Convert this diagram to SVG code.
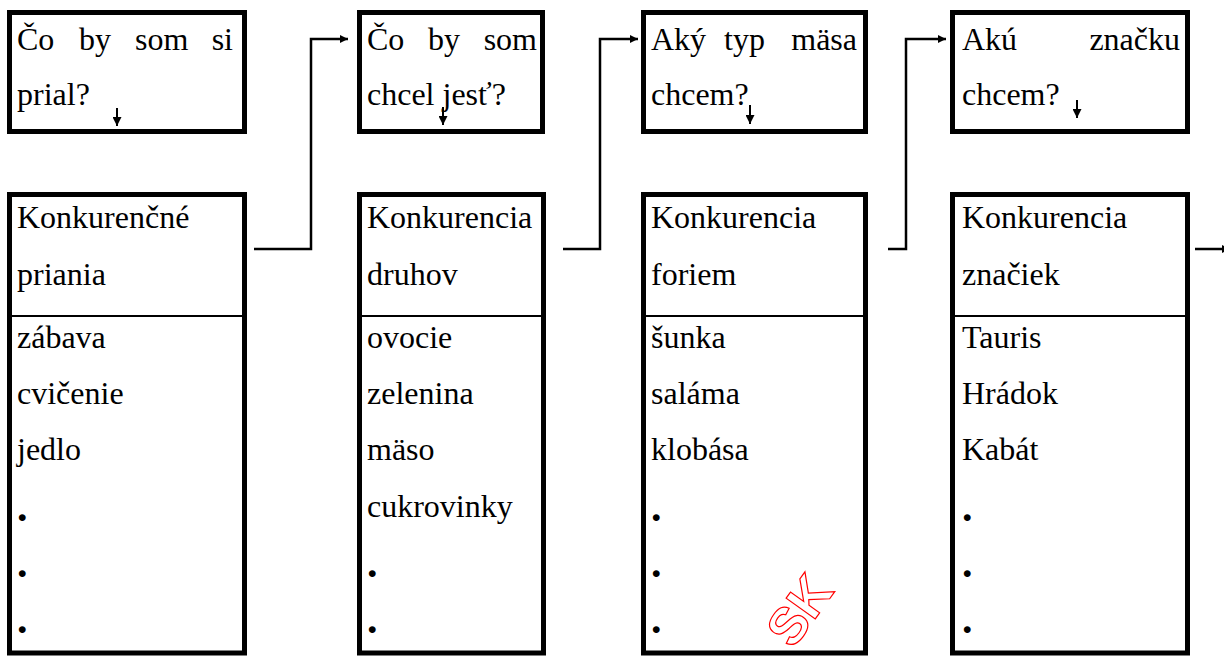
<svg xmlns="http://www.w3.org/2000/svg" width="1224" height="658" viewBox="0 0 1224 658">
<defs>
<style>
.box{fill:#fff;stroke:#000;stroke-width:5}
.div{stroke:#000;stroke-width:2}
.t{font-family:'Liberation Serif','Times New Roman',Times,serif;font-size:32px;fill:#000}
.dot{font-family:'Liberation Serif','Times New Roman',Times,serif;font-size:42px;font-weight:bold;fill:#000}
.conn{fill:none;stroke:#000;stroke-width:2.5}
.small{fill:none;stroke:#000;stroke-width:2}
.wm{font-family:'Liberation Sans',Arial,sans-serif;font-size:52px;font-weight:bold;fill:none;stroke:#ff0000;stroke-width:1.2}
</style>
<marker id="ah" viewBox="0 0 10 10" refX="10" refY="5" markerWidth="4" markerHeight="3.2" orient="auto" markerUnits="strokeWidth">
<path d="M0,0 L10,5 L0,10 z" fill="#000"/>
</marker>
<marker id="ahs" viewBox="0 0 10 10" refX="10" refY="5" markerWidth="5" markerHeight="4.5" orient="auto" markerUnits="strokeWidth">
<path d="M0,0 L10,5 L0,10 z" fill="#000"/>
</marker>
</defs>
<rect width="1224" height="658" fill="#fff"/>

<g id="q1">
<rect class="box" x="9.5" y="12.5" width="235" height="119"/>
<text class="t" x="17" y="50">Čo</text><text class="t" x="79" y="50">by</text><text class="t" x="135" y="50">som</text><text class="t" x="233" y="50" text-anchor="end">si</text>
<text class="t" x="17" y="105">prial?</text>
<line class="small" x1="117" y1="108" x2="117" y2="126" marker-end="url(#ahs)"/>
</g>
<g id="q2">
<rect class="box" x="359.5" y="12.5" width="183" height="119"/>
<text class="t" x="367" y="50">Čo</text><text class="t" x="428" y="50">by</text><text class="t" x="537" y="50" text-anchor="end">som</text>
<text class="t" x="367" y="105">chcel jesť?</text>
<line class="small" x1="443" y1="107" x2="443" y2="125" marker-end="url(#ahs)"/>
</g>
<g id="q3">
<rect class="box" x="643.5" y="12.5" width="222" height="119"/>
<text class="t" x="651" y="50">Aký</text><text class="t" x="724" y="50">typ</text><text class="t" x="857" y="50" text-anchor="end">mäsa</text>
<text class="t" x="651" y="105">chcem?</text>
<line class="small" x1="750" y1="105" x2="750" y2="124" marker-end="url(#ahs)"/>
</g>
<g id="q4">
<rect class="box" x="952.5" y="12.5" width="235" height="119"/>
<text class="t" x="962" y="50">Akú</text><text class="t" x="1180" y="50" text-anchor="end">značku</text>
<text class="t" x="962" y="105">chcem?</text>
<line class="small" x1="1077" y1="100" x2="1077" y2="118" marker-end="url(#ahs)"/>
</g>

<g id="c1">
<rect class="box" x="9.5" y="194.5" width="235" height="458.5"/>
<line class="div" x1="12" y1="316" x2="242" y2="316"/>
<text class="t" x="17" y="228">Konkurenčné</text>
<text class="t" x="17" y="285">priania</text>
<text class="t" x="17" y="348">zábava</text>
<text class="t" x="17" y="404">cvičenie</text>
<text class="t" x="17" y="460">jedlo</text>
<text class="dot" x="17" y="521">.</text>
<text class="dot" x="17" y="577">.</text>
<text class="dot" x="17" y="633">.</text>
</g>
<g id="c2">
<rect class="box" x="359.5" y="194.5" width="184" height="458.5"/>
<line class="div" x1="362" y1="316" x2="541" y2="316"/>
<text class="t" x="367" y="228">Konkurencia</text>
<text class="t" x="367" y="285">druhov</text>
<text class="t" x="367" y="348">ovocie</text>
<text class="t" x="367" y="404">zelenina</text>
<text class="t" x="367" y="460">mäso</text>
<text class="t" x="367" y="517">cukrovinky</text>
<text class="dot" x="367" y="577">.</text>
<text class="dot" x="367" y="633">.</text>
</g>
<g id="c3">
<rect class="box" x="643.5" y="194.5" width="222" height="458.5"/>
<line class="div" x1="646" y1="316" x2="863" y2="316"/>
<text class="t" x="651" y="228">Konkurencia</text>
<text class="t" x="651" y="285">foriem</text>
<text class="t" x="651" y="348">šunka</text>
<text class="t" x="651" y="404">saláma</text>
<text class="t" x="651" y="460">klobása</text>
<text class="dot" x="651" y="521">.</text>
<text class="dot" x="651" y="577">.</text>
<text class="dot" x="651" y="633">.</text>
</g>
<g id="c4">
<rect class="box" x="952.5" y="194.5" width="235" height="458.5"/>
<line class="div" x1="955" y1="316" x2="1185" y2="316"/>
<text class="t" x="962" y="228">Konkurencia</text>
<text class="t" x="962" y="285">značiek</text>
<text class="t" x="962" y="348">Tauris</text>
<text class="t" x="962" y="404">Hrádok</text>
<text class="t" x="962" y="460">Kabát</text>
<text class="dot" x="962" y="521">.</text>
<text class="dot" x="962" y="577">.</text>
<text class="dot" x="962" y="633">.</text>
</g>

<g id="connectors">
<polyline class="conn" points="254,249 311,249 311,39 348,39" marker-end="url(#ah)"/>
<polyline class="conn" points="563,249 600,249 600,39 638,39" marker-end="url(#ah)"/>
<polyline class="conn" points="888,249 906,249 906,39 946,39" marker-end="url(#ah)"/>
<polyline class="conn" points="1195,249 1230,249" marker-end="url(#ah)"/>
</g>

<text class="wm" x="0" y="0" transform="translate(793,650) rotate(-54.5)">SK</text>
</svg>
